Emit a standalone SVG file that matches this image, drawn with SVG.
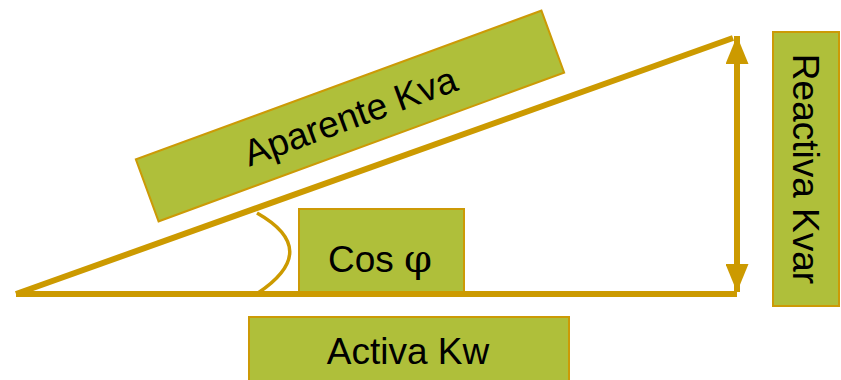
<svg xmlns="http://www.w3.org/2000/svg" width="841" height="380" viewBox="0 0 841 380">
<style>
.box{fill:#AFBF3A;stroke:#CC9A06;stroke-width:2}
.lbl{font-family:"Liberation Sans",Arial,sans-serif;font-size:37px;fill:#000;text-anchor:middle}
.phi{font-family:"DejaVu Serif",serif;font-size:40px}
.ln{stroke:#CC9A00;stroke-width:6;fill:none}
</style>
<defs>
<marker id="ah" viewBox="0 0 28 23" refX="28" refY="11.5" markerWidth="28" markerHeight="23" markerUnits="userSpaceOnUse" orient="auto-start-reverse">
<path d="M0,0 L28,11.5 L0,23 Z" fill="#CC9A00"/>
</marker>
</defs>
<g id="aparente">
<rect class="box" x="-216" y="-33" width="432" height="66" transform="translate(350,116) rotate(-20.15)"/>
<text class="lbl" transform="translate(350,116) rotate(-20.15)" y="13">Aparente Kva</text>
</g>
<g id="cos">
<rect class="box" x="299" y="209" width="165" height="86"/>
<text class="lbl" x="328" y="272" style="text-anchor:start">Cos <tspan class="phi">φ</tspan></text>
</g>
<g id="activa">
<rect class="box" x="249" y="317" width="320" height="70"/>
<text class="lbl" x="408" y="364">Activa Kw</text>
</g>
<g id="reactiva">
<rect class="box" x="773" y="32" width="66" height="274"/>
<text class="lbl" transform="translate(793,169) rotate(90)">Reactiva Kvar</text>
</g>
<g id="connectors">
<line class="ln" x1="16" y1="294" x2="737" y2="294"/>
<line class="ln" x1="16" y1="294" x2="733" y2="38"/>
<line class="ln" x1="737" y1="36" x2="737" y2="292" marker-start="url(#ah)" marker-end="url(#ah)"/>
<path d="M257,213 Q322,250 258,293" stroke="#CC9A00" stroke-width="3.5" fill="none"/>
</g>
</svg>
